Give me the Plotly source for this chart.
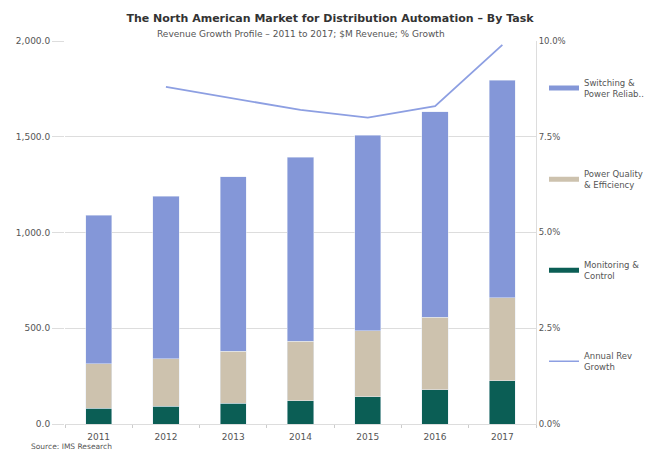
import plotly.graph_objects as go

years = ["2011", "2012", "2013", "2014", "2015", "2016", "2017"]
monitoring = [82, 92, 108, 122, 143, 178, 227]
power_quality = [232, 248, 272, 310, 345, 380, 433]
switching = [776, 850, 910, 961, 1021, 1073, 1134]
growth_years = ["2012", "2013", "2014", "2015", "2016", "2017"]
growth = [8.8, 8.5, 8.2, 8.0, 8.3, 9.9]
left_ticks = [0, 500, 1000, 1500, 2000]
right_ticks = [0, 2.5, 5, 7.5, 10]

C_SW = "#8497d8"
C_PQ = "#cdc2ae"
C_MC = "#0b5e55"
C_LN = "#8d9fe2"
FONT = "DejaVu Sans"
GRAY = "#555555"

fig = go.Figure()
fig.add_trace(go.Bar(x=years, y=monitoring, marker_color=C_MC, name="Monitoring &<br>Control", showlegend=False))
fig.add_trace(go.Bar(x=years, y=power_quality, marker_color=C_PQ, name="Power Quality<br>& Efficiency", showlegend=False))
fig.add_trace(go.Bar(x=years, y=switching, marker_color=C_SW, name="Switching &<br>Power Reliab...", showlegend=False))
fig.add_trace(go.Scatter(x=growth_years, y=growth, yaxis="y2", mode="lines",
                         line=dict(color=C_LN, width=1.8), showlegend=False))

# legend entries
for nm, col, w in [("Switching &<br>Power Reliab...", C_SW, 5),
                   ("Power Quality<br>& Efficiency", C_PQ, 5),
                   ("Monitoring &<br>Control", C_MC, 5),
                   ("Annual Rev<br>Growth", C_LN, 1.5)]:
    fig.add_trace(go.Scatter(x=[None], y=[None], mode="lines", name=nm,
                             line=dict(color=col, width=w), legendgroup=nm, showlegend=True))

fig.update_layout(
    width=644, height=444,
    margin=dict(l=57, r=116, t=33, b=28, autoexpand=False),
    barmode="stack", bargap=0.61,
    plot_bgcolor="white", paper_bgcolor="white",
    font=dict(family=FONT, size=9, color=GRAY),
    title=dict(text="<b>The North American Market for Distribution Automation – By Task</b>",
               x=0.5, xref="container", xanchor="center", y=0.985, yanchor="top",
               font=dict(size=11, color="#333333", family=FONT)),
    xaxis=dict(type="category", showgrid=False, ticks="outside", tickson="boundaries",
               ticklen=3, tickcolor="#cccccc", showline=True, linecolor="#dddddd",
               ticklabelstandoff=4, tickfont=dict(size=9, color=GRAY)),
    yaxis=dict(range=[0, 2000], tickvals=left_ticks,
               ticktext=[f"{v:,.1f}" for v in left_ticks],
               showgrid=True, gridcolor="#dddddd", gridwidth=1, zeroline=False,
               ticks="outside", ticklen=12, tickcolor="#dddddd",
               tickfont=dict(size=9, color=GRAY)),
    yaxis2=dict(range=[0, 10], overlaying="y", side="right", tickvals=right_ticks,
                ticktext=[f"{v:.1f}%" for v in right_ticks], showgrid=False, zeroline=False,
                showline=True, linecolor="#dddddd", tickfont=dict(size=8.5, color=GRAY)),
    legend=dict(x=1.017, xanchor="left", y=0.923, yanchor="top", tracegroupgap=66,
                itemwidth=30, font=dict(size=8.5, color=GRAY), bgcolor="rgba(0,0,0,0)"),
    annotations=[
        dict(text="Revenue Growth Profile – 2011 to 2017; $M Revenue; % Growth",
             xref="paper", yref="paper", x=0.5, y=1.0, yanchor="bottom", xanchor="center",
             showarrow=False, font=dict(size=9, color=GRAY)),
        dict(text="Source: IMS Research", xref="paper", yref="paper", x=-0.077, xanchor="left",
             y=-0.06, yanchor="middle", showarrow=False, font=dict(size=7.5, color=GRAY)),
    ],
)

fig.write_html("out.html")
